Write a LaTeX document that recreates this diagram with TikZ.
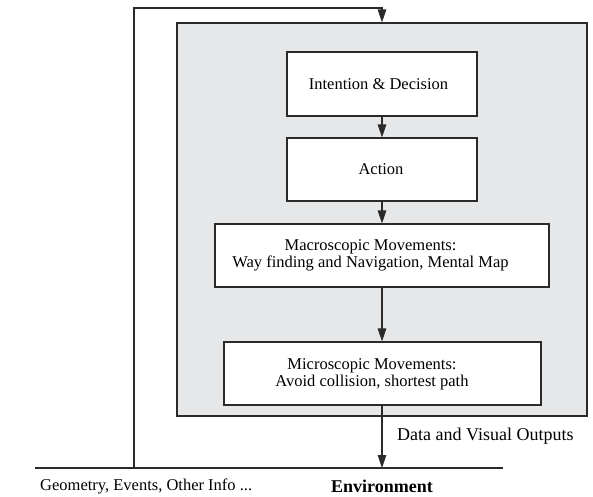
\documentclass[tikz,border=0pt]{standalone}
\usepackage{fontspec}
\setmainfont{Liberation Serif}
\usetikzlibrary{arrows.meta}
\definecolor{panelgray}{HTML}{E6E7E9}
\definecolor{edge}{HTML}{2A2A2A}
\tikzset{
  boxtext/.style={font=\fontsize{16.5}{17.5}\selectfont, inner sep=0pt, align=center},
  stepbox/.style={draw=edge, line width=1.1pt, fill=white, inner sep=0pt},
  panel/.style={draw=edge, line width=1.1pt, fill=panelgray, inner sep=0pt},
  flow/.style={draw=edge, line width=1.1pt, -{Triangle[length=13pt,width=8.5pt]}},
  plain/.style={draw=edge, line width=1.1pt},
  lbl/.style={font=\fontsize{18}{20}\selectfont, inner sep=0pt}
}
\begin{document}
\begin{tikzpicture}[x=1pt,y=-1pt]
\useasboundingbox (0,0) rectangle (593,496);
\node[panel, minimum width=410pt, minimum height=393pt] (panel) at (382,219.5) {};
\node[stepbox, minimum width=190pt, minimum height=64pt] (intent) at (382,84) {};
\node[stepbox, minimum width=190pt, minimum height=63pt] (action) at (382,169.5) {};
\node[stepbox, minimum width=334pt, minimum height=63pt] (macro) at (382,255.5) {};
\node[stepbox, minimum width=317pt, minimum height=63pt] (micro) at (382.5,373.5) {};
\node[boxtext] (intentT) at (378.5,84) {Intention \& Decision};
\node[boxtext] (actionT) at (381,169.5) {Action};
\node[boxtext] (macroT) at (370.5,255.5) {Macroscopic Movements:\\Way finding and Navigation, Mental Map};
\node[boxtext] (microT) at (372,374.5) {Microscopic Movements:\\Avoid collision, shortest path};
\coordinate (envL) at (35,468);
\coordinate (envR) at (503,468);
\coordinate (envtop) at (382,468);
\coordinate (fbB) at (134,468);
\coordinate (fbT) at (134,8);
\coordinate (fbR) at (382,8);
\draw[flow] (intent) -- (action);
\draw[flow] (action) -- (macro);
\draw[flow] (macro.south) -- (macro.south |- micro.north);
\draw[flow] (micro.south -| envtop) -- (envtop);
\draw[plain] (envL) -- (envR);
\draw[flow] (fbB) -- (fbT) -- (fbR) -- (panel.north);
\node[lbl, anchor=west] (data) at (397,436) {Data and Visual Outputs};
\node[lbl, anchor=west, font=\fontsize{16.5}{18}\selectfont] (geo) at (40,486) {Geometry, Events, Other Info ...};
\node[lbl, font=\fontsize{18}{20}\selectfont\bfseries] (env) at (382,486) {Environment};
\end{tikzpicture}
\end{document}
